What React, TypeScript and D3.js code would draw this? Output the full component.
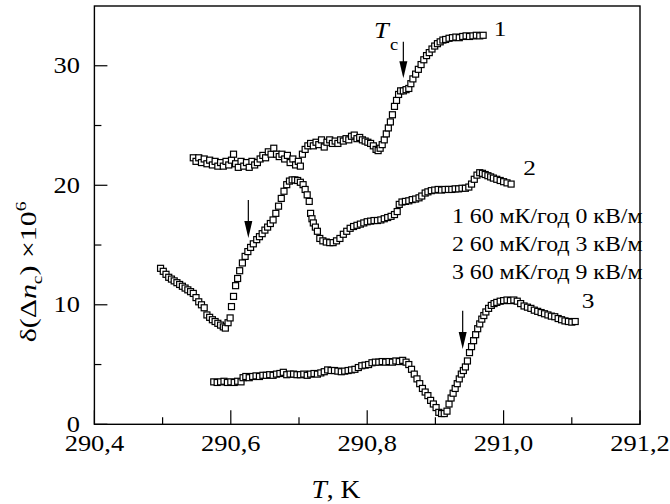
import React from "react";
import * as d3 from "d3";

// ---------- data ----------
const xTicksMajor = [290.4, 290.6, 290.8, 291.0, 291.2];
const xTickLabels = ["290,4", "290,6", "290,8", "291,0", "291,2"];
const xTicksMinor = [290.5, 290.7, 290.9, 291.1];
const yTicksMajor = [0, 10, 20, 30];
const yTicksMinor = [5, 15, 25];

const curve1: [number, number][] = [
  [290.545, 22.3], [290.549, 22.0], [290.553, 22.3], [290.557, 21.9], [290.561, 22.2], [290.565, 21.8],
  [290.569, 22.1], [290.573, 21.7], [290.577, 22.0], [290.581, 21.6], [290.585, 21.9], [290.589, 21.6],
  [290.593, 22.0], [290.597, 21.7], [290.601, 22.1], [290.604, 22.6], [290.607, 21.8], [290.611, 21.5],
  [290.615, 22.0], [290.619, 21.6], [290.623, 21.9], [290.627, 21.5], [290.631, 22.0], [290.635, 21.7],
  [290.639, 21.9], [290.643, 22.2], [290.647, 22.5], [290.651, 22.3], [290.655, 22.8], [290.659, 22.6],
  [290.663, 23.1], [290.667, 22.6], [290.671, 22.4], [290.675, 22.6], [290.679, 22.2], [290.683, 22.5],
  [290.687, 21.9], [290.691, 22.2], [290.695, 21.7], [290.699, 22.0], [290.702, 21.6], [290.705, 22.6],
  [290.709, 23.0], [290.713, 23.3], [290.717, 23.5], [290.721, 23.3], [290.725, 23.6], [290.729, 23.4],
  [290.733, 23.8], [290.737, 23.2], [290.741, 23.6], [290.745, 23.8], [290.749, 23.5], [290.753, 23.7],
  [290.757, 23.5], [290.761, 23.8], [290.765, 23.7], [290.769, 23.9], [290.773, 23.8], [290.777, 24.1],
  [290.781, 24.2], [290.785, 23.9], [290.789, 24.0], [290.793, 23.8], [290.797, 23.7], [290.801, 23.6],
  [290.805, 23.5], [290.809, 23.3], [290.813, 23.0], [290.816, 22.9], [290.819, 23.1], [290.822, 23.4],
  [290.825, 23.8], [290.828, 24.3], [290.831, 24.8], [290.834, 25.3], [290.837, 25.9], [290.840, 26.6],
  [290.843, 27.1], [290.846, 27.6], [290.849, 27.9], [290.853, 27.9], [290.857, 28.0], [290.861, 28.1],
  [290.864, 28.5], [290.867, 28.9], [290.871, 29.3], [290.875, 29.7], [290.879, 30.1], [290.883, 30.5],
  [290.887, 30.85], [290.891, 31.1], [290.895, 31.4], [290.899, 31.65], [290.903, 31.85], [290.907, 32.0],
  [290.911, 32.15], [290.915, 32.2], [290.920, 32.3], [290.925, 32.35], [290.930, 32.4], [290.935, 32.35],
  [290.940, 32.45], [290.945, 32.5], [290.950, 32.45], [290.955, 32.5], [290.960, 32.55], [290.965, 32.5],
  [290.970, 32.55],
];

const curve2: [number, number][] = [
  [290.497, 13.05], [290.501, 12.8], [290.505, 12.55], [290.509, 12.3], [290.513, 12.15], [290.517, 12.0],
  [290.521, 11.85], [290.525, 11.7], [290.529, 11.55], [290.533, 11.4], [290.537, 11.25], [290.541, 11.1],
  [290.545, 10.95], [290.549, 10.6], [290.553, 10.25], [290.557, 10.0], [290.561, 9.75], [290.565, 9.15],
  [290.569, 8.95], [290.573, 8.75], [290.577, 8.6], [290.581, 8.45], [290.585, 8.3], [290.589, 8.15],
  [290.592, 8.05], [290.596, 8.5], [290.599, 8.9], [290.601, 9.85], [290.604, 10.7], [290.607, 11.6],
  [290.610, 12.2], [290.613, 12.85], [290.617, 13.5], [290.621, 14.05], [290.625, 14.45], [290.629, 14.8],
  [290.633, 15.1], [290.638, 15.45], [290.642, 15.7], [290.646, 15.95], [290.650, 16.25], [290.654, 16.5],
  [290.658, 16.8], [290.662, 17.1], [290.666, 17.65], [290.670, 18.25], [290.674, 18.9], [290.678, 19.5],
  [290.682, 20.05], [290.686, 20.35], [290.690, 20.45], [290.694, 20.45], [290.698, 20.4], [290.702, 20.25],
  [290.706, 20.05], [290.709, 19.65], [290.712, 19.2], [290.715, 18.65], [290.717, 17.65], [290.719, 17.2],
  [290.721, 16.85], [290.724, 16.5], [290.727, 16.15], [290.7305, 15.55], [290.735, 15.35], [290.740, 15.25],
  [290.745, 15.2], [290.750, 15.2], [290.755, 15.35], [290.760, 15.55], [290.765, 15.9], [290.770, 16.15],
  [290.775, 16.4], [290.780, 16.55], [290.785, 16.65], [290.790, 16.75], [290.795, 16.85], [290.800, 16.95],
  [290.805, 17.0], [290.810, 17.05], [290.815, 17.05], [290.820, 17.1], [290.825, 17.2], [290.830, 17.3],
  [290.835, 17.4], [290.840, 17.55], [290.844, 17.8], [290.847, 18.4], [290.851, 18.6], [290.856, 18.65],
  [290.861, 18.7], [290.866, 18.8], [290.871, 18.85], [290.876, 18.95], [290.880, 19.1], [290.885, 19.35],
  [290.889, 19.45], [290.894, 19.55], [290.899, 19.6], [290.904, 19.65], [290.909, 19.6], [290.914, 19.65],
  [290.919, 19.65], [290.924, 19.65], [290.929, 19.7], [290.934, 19.7], [290.939, 19.75], [290.944, 19.75],
  [290.949, 19.85], [290.953, 20.1], [290.957, 20.5], [290.961, 20.85], [290.965, 21.05], [290.969, 21.0],
  [290.973, 20.9], [290.977, 20.8], [290.981, 20.7], [290.985, 20.6], [290.990, 20.5], [290.995, 20.4],
  [291.000, 20.3], [291.005, 20.2], [291.011, 20.1],
];

const curve3: [number, number][] = [
  [290.575, 3.55], [290.580, 3.5], [290.585, 3.55], [290.590, 3.6], [290.595, 3.5], [290.600, 3.55],
  [290.605, 3.5], [290.610, 3.6], [290.615, 3.55], [290.618, 3.9], [290.622, 4.0], [290.627, 3.9],
  [290.632, 4.0], [290.637, 4.05], [290.642, 4.0], [290.647, 4.1], [290.652, 4.1], [290.657, 4.15],
  [290.662, 4.1], [290.667, 4.2], [290.672, 4.25], [290.677, 4.35], [290.682, 4.15], [290.687, 4.2],
  [290.692, 4.2], [290.697, 4.15], [290.702, 4.15], [290.707, 4.2], [290.712, 4.1], [290.717, 4.2],
  [290.722, 4.25], [290.727, 4.2], [290.732, 4.3], [290.737, 4.4], [290.742, 4.55], [290.747, 4.5],
  [290.752, 4.5], [290.757, 4.45], [290.762, 4.4], [290.767, 4.45], [290.772, 4.5], [290.777, 4.55],
  [290.782, 4.6], [290.787, 4.75], [290.792, 4.9], [290.797, 4.95], [290.802, 5.0], [290.807, 5.15],
  [290.812, 5.2], [290.817, 5.2], [290.822, 5.25], [290.827, 5.2], [290.832, 5.25], [290.837, 5.2],
  [290.842, 5.3], [290.847, 5.25], [290.852, 5.35], [290.857, 5.2], [290.861, 5.0], [290.865, 4.6],
  [290.869, 4.2], [290.873, 3.8], [290.877, 3.4], [290.881, 3.0], [290.885, 2.7], [290.889, 2.4],
  [290.893, 2.0], [290.897, 1.7], [290.901, 1.4], [290.905, 1.0], [290.909, 0.9], [290.913, 0.9],
  [290.917, 1.1], [290.920, 1.7], [290.923, 2.2], [290.926, 2.6], [290.929, 3.0], [290.932, 3.4],
  [290.935, 3.8], [290.938, 4.2], [290.941, 4.5], [290.944, 4.8], [290.947, 5.3], [290.950, 6.0],
  [290.953, 6.5], [290.956, 7.0], [290.959, 7.5], [290.962, 8.0], [290.965, 8.4], [290.968, 8.8],
  [290.971, 9.1], [290.974, 9.4], [290.978, 9.7], [290.982, 9.95], [290.986, 10.1], [290.990, 10.2],
  [290.995, 10.3], [291.000, 10.35], [291.005, 10.4], [291.010, 10.35], [291.015, 10.4], [291.020, 10.3],
  [291.025, 10.1], [291.030, 9.9], [291.035, 9.8], [291.040, 9.7], [291.045, 9.55], [291.050, 9.45],
  [291.055, 9.35], [291.060, 9.25], [291.065, 9.15], [291.070, 9.05], [291.075, 9.0], [291.080, 8.85],
  [291.085, 8.75], [291.090, 8.65], [291.095, 8.6], [291.100, 8.55], [291.105, 8.6],
];

// arrows: [T, yTop, yTip]
const arrows: [number, number, number][] = [
  [290.853, 32.0, 28.95],
  [290.6257, 18.77, 15.59],
  [290.94, 9.51, 6.3],
];

const curveLabels = ["1", "2", "3"];
const legendLines = [
  "1 60 мК/год 0 кВ/м",
  "2 60 мК/год 3 кВ/м",
  "3 60 мК/год 9 кВ/м",
];

// ---------- layout ----------
const W = 670;
const H = 504;
const X0 = 94.4;
const X1 = 640;
const Y0 = 424.3;
const Y1 = 6;
const FONT = "Liberation Serif, Times New Roman, serif";

const x = d3.scaleLinear().domain([290.4, 291.2]).range([X0, X1]);
const y = d3.scaleLinear().domain([0, 35]).range([Y0, Y1]);

function SText(props: {
  x: number;
  y: number;
  size: number;
  sx?: number;
  anchor?: string;
  italic?: boolean;
  children: React.ReactNode;
}) {
  const { sx = 1.15, anchor = "start", italic = false } = props;
  return (
    <text
      transform={`translate(${props.x},${props.y}) scale(${sx},1)`}
      fontSize={props.size}
      fontFamily={FONT}
      fontStyle={italic ? "italic" : "normal"}
      textAnchor={anchor}
      fill="#000"
    >
      {props.children}
    </text>
  );
}

function Markers({ data }: { data: [number, number][] }) {
  const s = 6;
  return (
    <g>
      {data.map((d, i) => (
        <rect
          key={i}
          x={x(d[0]) - s / 2}
          y={y(d[1]) - s / 2}
          width={s}
          height={s}
          fill="#fff"
          stroke="#000"
          strokeWidth={1.2}
        />
      ))}
    </g>
  );
}

export default function App() {
  const labelX = [500, 529.5, 588];
  const labelY = [36, 175, 308];
  return (
    <svg
      width={W}
      height={H}
      style={{ position: "absolute", left: 0, top: 0, background: "#fff" }}
    >
      <rect x={0} y={0} width={W} height={H} fill="#fff" />
      {/* frame */}
      <rect x={X0} y={Y1} width={X1 - X0} height={Y0 - Y1} fill="none" stroke="#000" strokeWidth={1.4} />
      {/* x ticks */}
      {xTicksMajor.map((t, i) => (
        <g key={"xm" + i}>
          <line x1={x(t)} x2={x(t)} y1={Y0} y2={Y0 - 14} stroke="#000" strokeWidth={1.2} />
          <SText x={x(t)} y={451} size={23} anchor="middle">{xTickLabels[i]}</SText>
        </g>
      ))}
      {xTicksMinor.map((t, i) => (
        <line key={"xn" + i} x1={x(t)} x2={x(t)} y1={Y0} y2={Y0 - 7} stroke="#000" strokeWidth={1.2} />
      ))}
      {/* y ticks */}
      {yTicksMajor.map((t, i) => (
        <g key={"ym" + i}>
          <line x1={X0} x2={X0 + 13} y1={y(t)} y2={y(t)} stroke="#000" strokeWidth={1.2} />
          <SText x={80} y={y(t) + 7.5} size={23} anchor="end">{String(t)}</SText>
        </g>
      ))}
      {yTicksMinor.map((t, i) => (
        <line key={"yn" + i} x1={X0} x2={X0 + 7} y1={y(t)} y2={y(t)} stroke="#000" strokeWidth={1.2} />
      ))}
      {/* axis titles */}
      <text
        transform={`translate(336,498) scale(1.1,1)`}
        fontSize={25}
        fontFamily={FONT}
        textAnchor="middle"
      >
        <tspan fontStyle="italic">T</tspan>
        <tspan>, K</tspan>
      </text>
      <text
        transform={`translate(36,272) rotate(-90) scale(1.3,1)`}
        fontSize={23}
        fontFamily={FONT}
        textAnchor="middle"
      >
        <tspan>δ(Δ</tspan>
        <tspan fontStyle="italic">n</tspan>
        <tspan fontSize={15} dy={6}>c</tspan>
        <tspan dy={-6}>) ×10</tspan>
        <tspan fontSize={15} dy={-10}>6</tspan>
      </text>
      {/* data */}
      <Markers data={curve1} />
      <Markers data={curve2} />
      <Markers data={curve3} />
      {/* arrows */}
      {arrows.map((a, i) => {
        const ax = x(a[0]);
        const yt = y(a[1]);
        const yp = y(a[2]);
        return (
          <g key={"ar" + i}>
            <line x1={ax} x2={ax} y1={yt} y2={yp - 12} stroke="#000" strokeWidth={1.2} />
            <path d={`M${ax - 4},${yp - 17} L${ax + 4},${yp - 17} L${ax},${yp} Z`} fill="#000" />
          </g>
        );
      })}
      {/* Tc label */}
      <SText x={374} y={38} size={23} italic>T</SText>
      <SText x={390} y={50} size={16}>c</SText>
      {/* curve labels */}
      {curveLabels.map((l, i) => (
        <SText key={"cl" + i} x={labelX[i]} y={labelY[i]} size={22} anchor="middle">{l}</SText>
      ))}
      {/* legend */}
      {legendLines.map((l, i) => (
        <SText key={"lg" + i} x={452} y={223 + i * 28} size={20} sx={1.19}>{l}</SText>
      ))}
    </svg>
  );
}
